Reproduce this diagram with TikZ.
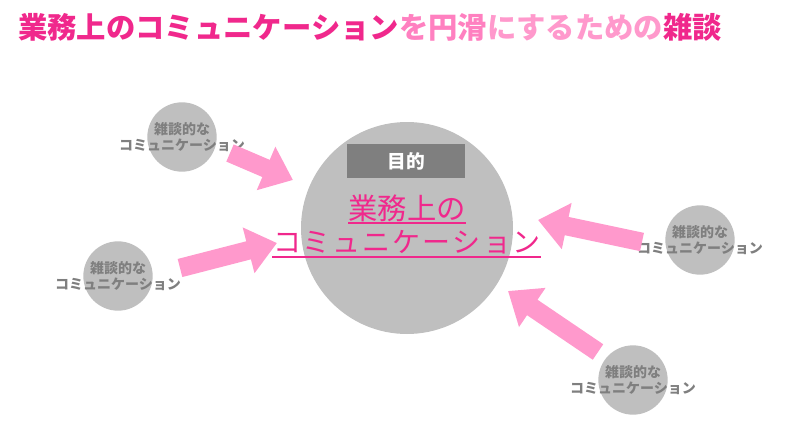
\documentclass[tikz,border=0pt]{standalone}
\usepackage{fontspec}
\setmainfont{Noto Sans CJK JP}
\usetikzlibrary{arrows.meta}
\definecolor{dpink}{HTML}{F0288C}
\definecolor{mpink}{HTML}{FF80C0}
\definecolor{lpink}{HTML}{FF99CC}
\definecolor{cgray}{HTML}{BFBFBF}
\definecolor{tgray}{HTML}{7F7F7F}
\tikzset{
 small/.style={circle,fill=cgray,minimum size=52pt,inner sep=0pt},
 stxt/.style={text=tgray,font=\fontsize{10.5pt}{12pt}\selectfont\bfseries,align=center},
 fat/.style={draw=lpink,line width=14pt,-{Triangle[width=34pt,length=22pt]}}
}
\begin{document}
\begin{tikzpicture}[x=0.75pt,y=-0.75pt]
\useasboundingbox (0,0) rectangle (800,432);
\node[anchor=west,font=\fontsize{22pt}{24pt}\selectfont\bfseries,inner sep=0pt] (title) at (18,27)
 {\textcolor{dpink}{業務上のコミュニケーション}\textcolor{mpink}{を円滑}\textcolor{lpink}{にするための}\textcolor{dpink}{雑談}};
\node[circle,fill=cgray,minimum size=159pt,inner sep=0pt] (big) at (407,228) {};
\node[fill=tgray,minimum width=88pt,minimum height=25pt,text=white,font=\fontsize{14pt}{16pt}\selectfont\bfseries] (goal) at (406,161) {目的};
\node[text=dpink,font=\fontsize{22pt}{24pt}\selectfont,inner sep=0pt] (l1) at (407,208) {業務上の};
\draw[dpink,line width=0.9pt] (348,223) -- (466,223);
\node[text=dpink,font=\fontsize{21pt}{24pt}\selectfont,inner sep=0pt] (l2) at (407,242) {コ\hspace{1.5pt}ミ\hspace{1.5pt}ュ\hspace{1.5pt}ニ\hspace{1.5pt}ケ\hspace{1.5pt}ー\hspace{1.5pt}シ\hspace{1.5pt}ョ\hspace{1.5pt}ン};
\draw[dpink,line width=0.9pt] (272,257) -- (541,257);
\node[small] (c1) at (182,137) {};
\node[stxt] at (c1) {雑談的な\\コミュニケーション};
\node[small] (c2) at (118,276) {};
\node[stxt] at (c2) {雑談的な\\コミュニケーション};
\node[small] (c3) at (700,240) {};
\node[stxt] at (c3) {雑談的な\\コミュニケーション};
\node[small] (c4) at (633,380) {};
\node[stxt] at (c4) {雑談的な\\コミュニケーション};
\coordinate (a1s) at (230,153); \coordinate (a1e) at (293,180);
\coordinate (a2s) at (180,268); \coordinate (a2e) at (277,243);
\coordinate (a3s) at (642,242); \coordinate (a3e) at (538,220);
\coordinate (a4s) at (598,352); \coordinate (a4e) at (508,291);
\draw[fat] (a1s) -- (a1e);
\draw[fat] (a2s) -- (a2e);
\draw[fat] (a3s) -- (a3e);
\draw[fat] (a4s) -- (a4e);
\end{tikzpicture}
\end{document}
